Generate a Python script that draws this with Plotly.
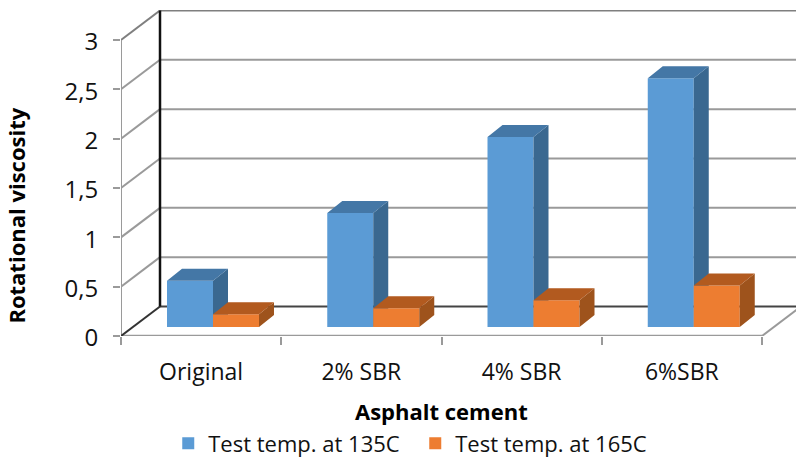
import plotly.graph_objects as go

categories = ["Original", "2% SBR", "4% SBR", "6%SBR"]
temp_135 = [0.47, 1.155, 1.925, 2.52]
temp_165 = [0.13, 0.19, 0.27, 0.42]
y_ticks = [0, 0.5, 1, 1.5, 2, 2.5, 3]
y_tick_labels = ["0", "0,5", "1", "1,5", "2", "2,5", "3"]
series_names = ["Test temp. at 135C", "Test temp. at 165C"]

FONT = "Open Sans"
PX_X, PX_Y = 160.25, 98.67
DX, DY = 39 / PX_X, 29.5 / PX_Y            # depth of the floor
BAR_X0, BAR_BASE = 46 / PX_X, 9 / PX_Y     # bar inset from the front corner
BAR_W = 46 / PX_X
BAR_DX, BAR_DY = 15 / PX_X, 12 / PX_Y      # bar depth
n = len(categories)
centers = [i + 0.5 for i in range(n)]
x_max = 675 / PX_X
y_max = 326 / PX_Y


def faces(values, start):
    side_x, side_y, top_x, top_y = [], [], [], []
    for i, v in enumerate(values):
        x0 = i + start
        x1 = x0 + BAR_W
        t = BAR_BASE + v
        side_x += [x1, x1 + BAR_DX, x1 + BAR_DX, x1, x1, None]
        side_y += [BAR_BASE, BAR_BASE + BAR_DY, t + BAR_DY, t, BAR_BASE, None]
        top_x += [x0, x0 + BAR_DX, x1 + BAR_DX, x1, x0, None]
        top_y += [t, t + BAR_DY, t + BAR_DY, t, t, None]
    return side_x, side_y, top_x, top_y


def poly(x, y, color, xa, ya):
    return go.Scatter(x=x, y=y, fill="toself", fillcolor=color, mode="lines",
                      line=dict(width=0, color=color), showlegend=False,
                      hoverinfo="skip", xaxis=xa, yaxis=ya)


fig = go.Figure()
groups = [
    (temp_135, BAR_X0, "#5B9BD5", "#3A6890", "#4477A6", "x", "y", series_names[0]),
    (temp_165, BAR_X0 + BAR_W, "#ED7D31", "#9E531C", "#B25A1F", "x2", "y2", series_names[1]),
]
for vals, start, front, side, top, xa, ya, name in groups:
    fig.add_trace(go.Bar(x=centers, y=vals, base=[BAR_BASE] * n, width=BAR_W,
                         offset=start - 0.5, marker=dict(color=front, line=dict(width=0)),
                         name=name, xaxis=xa, yaxis=ya))
    sx, sy, tx, ty = faces(vals, start)
    fig.add_trace(poly(sx, sy, side, xa, ya))
    fig.add_trace(poly(tx, ty, top, xa, ya))


def seg(x0, y0, x1, y1, color, width=2):
    fig.add_shape(type="line", x0=x0, y0=y0, x1=x1, y1=y1, xref="x", yref="y",
                  layer="below", line=dict(color=color, width=width))


GRID = "#9a9a9a"
for v in y_ticks[1:]:
    dark = v == y_ticks[-1]
    seg(DX, v + DY, x_max + 0.1, v + DY, "#7f7f7f" if dark else GRID)
    seg(0, v, DX, v + DY, "#7f7f7f" if dark else GRID)
seg(0, 0, 0, y_ticks[-1], GRID)
seg(0, 0, n, 0, GRID, 2.5)
seg(n, 0, n + DX, DY, GRID)
seg(0, 0, DX, DY, "#333333")
seg(DX, DY, x_max + 0.1, DY, "#444444")
seg(DX, DY, DX, y_ticks[-1] + DY, "#111111", 2.5)

fig.add_annotation(text="<b>Rotational viscosity</b>", xref="x", yref="y", x=0, y=1.22,
                   xshift=-105, textangle=-90, showarrow=False,
                   font=dict(family=FONT, size=22, color="#000000"))
fig.add_annotation(text="<b>Asphalt cement</b>", xref="x", yref="y", x=n / 2, y=0,
                   yshift=-75, showarrow=False,
                   font=dict(family=FONT, size=22, color="#000000"))

fig.update_layout(
    width=796, height=461, margin=dict(l=121, r=0, t=10, b=125, autoexpand=False),
    paper_bgcolor="white", plot_bgcolor="white", barmode="overlay",
    font=dict(family=FONT, color="#111111"),
    xaxis=dict(range=[0, x_max], tickvals=centers, ticktext=categories, ticks="",
               showgrid=False, zeroline=False, showline=False,
               tickfont=dict(size=23), ticklabelstandoff=20,
               minor=dict(tickvals=list(range(n + 1)), ticks="outside", ticklen=8,
                          tickcolor=GRID, tickwidth=1.5, showgrid=False)),
    yaxis=dict(range=[0, y_max], tickvals=y_ticks, ticktext=y_tick_labels, ticks="outside",
               ticklen=7, tickcolor=GRID, tickwidth=1.5, showgrid=False, zeroline=False,
               showline=False, tickfont=dict(size=24), ticklabelstandoff=10,
               ticklabelshift=2),
    xaxis2=dict(overlaying="x", matches="x", visible=False),
    yaxis2=dict(overlaying="y", matches="y", visible=False),
    legend=dict(orientation="h", x=0.07, xanchor="left", y=-0.265, yanchor="top",
                entrywidth=202, entrywidthmode="pixels", itemwidth=30,
                font=dict(size=22, family=FONT), bgcolor="rgba(0,0,0,0)"),
)
fig.write_html("out.html", config=dict(displayModeBar=False),
               post_script="document.body.style.margin='0';")
